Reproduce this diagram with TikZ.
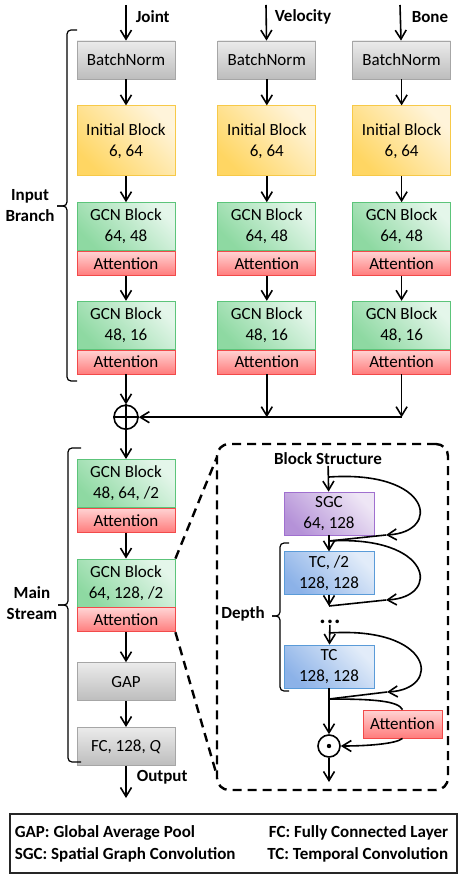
\documentclass[tikz,border=0pt]{standalone}
\usepackage{fontspec}
\setmainfont{Carlito}
\usepackage{tikz}
\usetikzlibrary{arrows.meta,positioning,calc}
\usepackage{xcolor}
\definecolor{bnTop}{HTML}{EBEBEB}
\definecolor{bnBot}{HTML}{BDBDBD}
\definecolor{bnLine}{HTML}{A6A6A6}
\definecolor{inTop}{HTML}{FFF4DA}
\definecolor{inBot}{HTML}{FFD663}
\definecolor{inLine}{HTML}{F7C948}
\definecolor{gcTop}{HTML}{E4F6EA}
\definecolor{gcBot}{HTML}{8ED9A2}
\definecolor{gcLine}{HTML}{5CC47A}
\definecolor{atTop}{HTML}{FFD3D3}
\definecolor{atBot}{HTML}{FF7C7C}
\definecolor{atLine}{HTML}{F24A4A}
\definecolor{sgTop}{HTML}{EEE6F5}
\definecolor{sgBot}{HTML}{B592D8}
\definecolor{sgLine}{HTML}{A070CF}
\definecolor{tcTop}{HTML}{E2ECF9}
\definecolor{tcBot}{HTML}{8CB2E8}
\definecolor{tcLine}{HTML}{5A9BD8}

\begin{document}
\begin{tikzpicture}[x=1pt, y=1pt, >={Straight Barb[length=9pt,width=11pt]}, line width=1.6pt, node distance=26pt, font=\fontsize{17}{21}\selectfont]
\tikzstyle{blk}=[draw, line width=0.8pt, minimum width=98pt, inner sep=0pt, align=center]
\tikzstyle{bnorm}=[blk, draw=bnLine, top color=bnTop, bottom color=bnBot, minimum height=38pt]
\tikzstyle{initblk}=[blk, draw=inLine, top color=inTop, bottom color=inBot, shading angle=-45, minimum height=70pt]
\tikzstyle{gcn}=[blk, draw=gcLine, top color=gcTop, bottom color=gcBot, shading angle=-45, minimum height=48pt]
\tikzstyle{attn}=[blk, draw=atLine, top color=atTop, bottom color=atBot, minimum height=24pt]
\tikzstyle{sgcblk}=[blk, draw=sgLine, top color=sgTop, bottom color=sgBot, shading angle=-45, minimum width=90pt, minimum height=43pt]
\tikzstyle{tcblk}=[blk, draw=tcLine, top color=tcTop, bottom color=tcBot, shading angle=-45, minimum width=90pt, minimum height=43pt]
\tikzstyle{lbl}=[font=\fontsize{17}{21}\selectfont\bfseries, align=center, inner sep=0pt]
\tikzstyle{brace}=[line width=1.2pt, rounded corners=4pt]
\tikzstyle{zoomline}=[line width=2.4pt, dash pattern=on 9pt off 6pt]
\useasboundingbox (0,0) rectangle (463,-890);

% three input branches
\node[bnorm] (bn1) at (126,-60) {BatchNorm};
\node[bnorm, right=42pt of bn1] (bn2) {BatchNorm};
\node[bnorm, right=36pt of bn2] (bn3) {BatchNorm};
\node[initblk, below=of bn1] (ib1) {Initial Block\\6, 64};
\node[initblk, below=of bn2] (ib2) {Initial Block\\6, 64};
\node[initblk, below=of bn3] (ib3) {Initial Block\\6, 64};
\node[gcn, below=of ib1] (ga1) {GCN Block\\64, 48};
\node[gcn, below=of ib2] (ga2) {GCN Block\\64, 48};
\node[gcn, below=of ib3] (ga3) {GCN Block\\64, 48};
\node[attn, below=0pt of ga1] (aa1) {Attention};
\node[attn, below=0pt of ga2] (aa2) {Attention};
\node[attn, below=0pt of ga3] (aa3) {Attention};
\node[gcn, below=25pt of aa1] (gb1) {GCN Block\\48, 16};
\node[gcn, below=25pt of aa2] (gb2) {GCN Block\\48, 16};
\node[gcn, below=25pt of aa3] (gb3) {GCN Block\\48, 16};
\node[attn, below=0pt of gb1] (ab1) {Attention};
\node[attn, below=0pt of gb2] (ab2) {Attention};
\node[attn, below=0pt of gb3] (ab3) {Attention};

\coordinate (in1) at (126,-5);
\coordinate (in2) at (266,-5);
\coordinate (in3) at (400,-5);
\node[lbl, anchor=west] at (135,-17) {Joint};
\node[lbl, anchor=west] at (274,-17) {Velocity};
\node[lbl, anchor=west] at (411,-17) {Bone};

\draw[->] (in1) -- (bn1);
\draw[->] (in2) -- (bn2);
\draw[->] (in3) -- (bn3);
\draw[->] (bn1) -- (ib1);
\draw[->] (bn2) -- (ib2);
\draw[->] (bn3) -- (ib3);
\draw[->] (ib1) -- (ga1);
\draw[->] (ib2) -- (ga2);
\draw[->] (ib3) -- (ga3);
\draw[->] (aa1) -- (gb1);
\draw[->] (aa2) -- (gb2);
\draw[->] (aa3) -- (gb3);

% fusion
\node[circle, draw, minimum size=24pt, inner sep=0pt, below=30pt of ab1] (sum) {};
\draw (sum.north) -- (sum.south) (sum.west) -- (sum.east);
\draw[->] (ab1) -- (sum);
\draw[->] (ab2) -- (ab2 |- sum);
\draw[->] (ab3) -- (ab3 |- sum);
\draw[->] (ab3 |- sum) -- (sum);

% main stream
\node[gcn, below=29pt of sum] (gc3) {GCN Block\\48, 64, /2};
\node[attn, below=0pt of gc3] (at3) {Attention};
\node[gcn, below=of at3] (gc4) {GCN Block\\64, 128, /2};
\node[attn, below=0pt of gc4] (at4) {Attention};
\node[bnorm, below=30pt of at4] (gap) {GAP};
\node[bnorm, below=of gap] (fc) {FC, 128, \textit{Q}};
\coordinate (outp) at (126,-798);
\node[lbl, anchor=west] at (136,-777) {Output};

\draw[->] (sum) -- (gc3);
\draw[->] (at3) -- (gc4);
\draw[->] (at4) -- (gap);
\draw[->] (gap) -- (fc);
\draw[->] (fc) -- (outp);

% braces
\draw[brace] (77,-30) -- (67,-30) -- (67,-206) -- (57,-206);
\draw[brace] (77,-381) -- (67,-381) -- (67,-206) -- (57,-206);
\node[lbl] at (30,-206) {Input\\Branch};
\draw[brace] (81,-448) -- (68,-448) -- (68,-605) -- (58,-605);
\draw[brace] (81,-762) -- (68,-762) -- (68,-605) -- (58,-605);
\node[lbl] at (32,-603) {Main\\Stream};

% block structure
\node[draw, zoomline, rounded corners=12pt, minimum width=231pt, minimum height=346pt] (detail) at (332.5,-617) {};
\coordinate (dtop) at (217,-457);
\coordinate (dbot) at (217,-776);
\draw[zoomline] (gc4.north east) -- (dtop);
\draw[zoomline] (at4.south east) -- (dbot);

\node[lbl] (bs) at (328,-459) {Block Structure};
\node[sgcblk] (sg) at (329,-513.5) {SGC\\64, 128};
\node[tcblk, below=16pt of sg] (tc1) {TC, /2\\128, 128};
\node[lbl, font=\fontsize{24}{24}\selectfont\bfseries, text height=4pt, text depth=0pt, inner sep=1pt] (dots) at (330,-621) {.\hspace{1pt}.\hspace{1pt}.};
\node[tcblk] (tc2) at (329,-666.5) {TC\\128, 128};
\node[attn, minimum width=79pt, minimum height=28pt] (at5) at (402.5,-724) {Attention};
\node[circle, draw, minimum size=22pt, inner sep=0pt] (mul) at (329,-746) {};
\fill (mul.center) circle (2.2pt);
\coordinate (bout) at (329,-782);

\coordinate (j0) at (329,-477);
\coordinate (j1) at (329,-541);
\coordinate (j2) at (329,-606);
\coordinate (j3) at (329,-633);
\coordinate (j4) at (329,-699);
\coordinate (t1) at (386,-535);
\coordinate (t2) at (386,-600);
\coordinate (t3) at (387,-692);

\draw[->] (bs) -- (sg);
\draw[->] (sg) -- (tc1);
\draw[->] (tc1) -- (j2);
\draw[->] (dots) -- (tc2);
\draw[->] (tc2) -- (mul);
\draw[->] (mul) -- (bout);
\draw[->] (j0) .. controls (432,-470) and (442,-532) .. (t1);
\draw (t1) -- (j1);
\draw[->] (j1) .. controls (432,-535) and (442,-597) .. (t2);
\draw (t2) -- (j2);
\draw[->] (j3) .. controls (433,-626) and (443,-689) .. (t3);
\draw (t3) -- (j4);
\draw (j4) .. controls (375,-699) and (398,-701) .. (at5.north);
\draw[->] (at5.south) .. controls (396,-744) and (366,-746) .. (mul.east);

\draw[brace] (289,-543) -- (280,-543) -- (280,-616) -- (272,-616);
\draw[brace] (289,-691) -- (280,-691) -- (280,-616) -- (272,-616);
\node[lbl] at (243,-614) {Depth};

% legend
\node[draw, line width=1.2pt, draw=black!85, minimum width=447pt, minimum height=59pt] (legend) at (233.5,-843.5) {};
\node[lbl, anchor=west] at (14,-833) {GAP: Global Average Pool};
\node[lbl, anchor=west] at (14,-855) {SGC: Spatial Graph Convolution};
\node[lbl, anchor=east] at (449,-833) {FC: Fully Connected Layer};
\node[lbl, anchor=east] at (449,-855) {TC: Temporal Convolution};
\end{tikzpicture}
\end{document}
